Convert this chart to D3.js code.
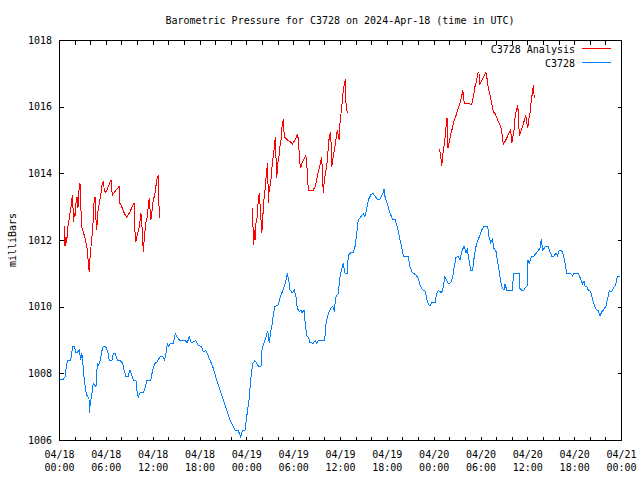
<!DOCTYPE html>
<html>
<head>
<meta charset="utf-8">
<script src="https://cdn.jsdelivr.net/npm/d3@7"></script>
<style>
  html, body { margin: 0; padding: 0; background: #fff; }
  svg { display: block; }
  text { font-family: "DejaVu Sans Mono", monospace; font-size: 10px; fill: #000; }
</style>
</head>
<body>
<svg id="chart" width="640" height="480"></svg>
<script>
// ---------------- DATA ----------------
const title = "Barometric Pressure for C3728 on 2024-Apr-18 (time in UTC)";
const yLabel = "milliBars";
const seriesNames = ["C3728 Analysis", "C3728"];

// x axis: hours since 2024-04-18 00:00 UTC
const xTickLabelHours = [0, 6, 12, 18, 24, 30, 36, 42, 48, 54, 60, 66, 72];
const xTickDates = ["04/18","04/18","04/18","04/18","04/19","04/19","04/19","04/19","04/20","04/20","04/20","04/20","04/21"];
const xTickTimes = ["00:00","06:00","12:00","18:00","00:00","06:00","12:00","18:00","00:00","06:00","12:00","18:00","00:00"];
const yTicks = [1006, 1008, 1010, 1012, 1014, 1016, 1018];

// C3728 observations (hours, mb)
const obsHours = [0.13,0.55,0.77,0.99,1.19,1.50,1.76,1.96,2.18,2.47,2.60,2.78,2.91,3.04,3.11,3.29,3.46,3.63,3.84,3.88,4.01,4.19,4.39,4.52,4.74,4.91,5.09,5.25,5.47,5.68,5.98,6.24,6.44,6.79,6.96,7.21,7.47,7.81,8.16,8.33,8.58,8.84,9.10,9.31,9.52,9.86,10.03,10.16,10.38,10.80,11.02,11.24,11.75,12.00,12.30,12.59,12.94,13.29,13.54,13.71,13.87,14.05,14.31,14.64,14.90,15.16,15.41,15.76,16.14,16.44,16.69,16.95,17.29,17.55,17.81,18.28,18.49,18.83,19.13,19.43,19.77,20.20,20.63,21.05,21.48,21.91,22.33,22.55,22.97,23.28,23.53,23.83,24.05,24.34,24.56,24.81,25.11,25.53,25.88,25.97,26.17,26.52,26.74,26.94,27.12,27.33,27.45,27.67,28.10,28.31,28.61,28.86,29.08,29.25,29.43,29.59,29.89,30.14,30.36,30.53,30.79,31.00,31.13,31.39,31.55,31.73,31.99,32.16,32.58,32.80,33.01,33.27,34.04,34.21,34.50,34.81,35.06,35.27,35.49,35.78,36.00,36.22,36.42,36.64,36.93,37.06,37.41,37.70,37.92,38.14,38.34,38.69,38.98,39.20,39.42,39.63,39.93,40.19,40.48,40.78,41.12,41.47,41.64,41.80,42.06,42.41,42.75,43.04,43.34,43.60,43.90,44.11,44.75,44.97,45.26,45.74,46.03,46.25,46.59,46.89,47.10,47.31,47.53,47.75,48.17,48.39,48.59,49.03,49.23,49.45,49.67,49.87,50.18,50.44,50.64,50.86,51.15,51.37,51.59,51.89,52.14,52.31,52.57,52.74,53.00,53.17,53.42,53.72,53.94,54.15,54.45,54.92,55.09,55.31,55.51,55.73,55.99,56.20,56.41,56.59,56.79,57.01,57.14,57.36,58.12,58.20,58.97,59.06,59.28,59.57,59.83,60.00,60.05,60.26,60.56,60.85,61.11,61.40,61.62,61.79,61.97,62.17,62.39,62.69,62.90,63.12,63.42,63.67,63.84,64.06,64.40,64.61,64.83,65.04,65.56,65.81,65.98,66.53,66.84,67.09,67.26,67.39,67.61,67.81,68.12,68.37,68.67,68.89,69.09,69.31,69.53,69.82,70.08,70.29,70.50,70.81,71.01,71.32,71.52,71.87];
const obsValues = [1007.80,1007.82,1007.90,1008.30,1008.40,1008.40,1008.80,1008.80,1008.62,1008.65,1008.70,1008.40,1008.60,1008.40,1008.10,1007.70,1007.45,1007.30,1007.28,1006.80,1007.10,1007.35,1007.70,1007.65,1007.60,1008.30,1008.25,1008.35,1008.65,1008.82,1008.80,1008.65,1008.40,1008.40,1008.60,1008.60,1008.40,1008.38,1008.30,1008.10,1007.90,1007.90,1008.10,1007.95,1007.80,1007.78,1007.40,1007.28,1007.42,1007.42,1007.55,1007.78,1007.78,1008.10,1008.30,1008.35,1008.50,1008.50,1008.40,1008.60,1008.88,1008.82,1008.90,1008.90,1009.18,1009.08,1009.00,1009.00,1008.98,1008.92,1009.10,1008.92,1008.95,1008.98,1008.85,1008.80,1008.65,1008.68,1008.52,1008.35,1008.15,1007.80,1007.50,1007.20,1006.90,1006.60,1006.40,1006.30,1006.28,1006.10,1006.30,1006.30,1006.70,1007.20,1007.80,1008.30,1008.38,1008.22,1008.22,1008.65,1008.85,1009.10,1009.28,1008.90,1009.25,1009.50,1009.75,1010.00,1010.05,1010.25,1010.45,1010.60,1010.80,1011.00,1010.80,1010.50,1010.42,1010.50,1010.30,1009.95,1009.85,1009.90,1009.80,1009.90,1009.50,1009.12,1009.08,1008.92,1008.90,1008.98,1008.90,1009.00,1009.00,1009.50,1009.80,1009.95,1010.00,1009.90,1010.30,1010.40,1010.90,1011.12,1011.30,1011.00,1011.00,1011.55,1011.62,1011.62,1011.80,1012.20,1012.60,1012.70,1012.80,1012.70,1012.95,1013.20,1013.35,1013.40,1013.32,1013.22,1013.22,1013.38,1013.52,1013.25,1013.10,1012.80,1012.62,1012.62,1012.40,1012.10,1011.80,1011.52,1011.50,1011.20,1011.02,1010.95,1010.85,1010.65,1010.50,1010.48,1010.25,1010.08,1010.02,1010.12,1010.12,1010.40,1010.48,1010.42,1010.60,1010.90,1010.80,1010.68,1010.72,1010.90,1011.20,1011.48,1011.50,1011.40,1011.65,1011.82,1011.62,1011.70,1011.35,1011.10,1011.10,1011.45,1011.80,1012.02,1012.15,1012.30,1012.42,1012.42,1012.10,1011.92,1012.02,1011.75,1011.65,1011.35,1011.05,1010.75,1010.55,1010.50,1010.68,1010.50,1010.50,1011.00,1011.00,1010.55,1010.50,1010.50,1010.60,1010.62,1011.40,1011.30,1011.52,1011.52,1011.60,1011.68,1011.75,1012.02,1011.70,1011.75,1011.82,1011.80,1011.65,1011.52,1011.52,1011.60,1011.52,1011.68,1011.68,1011.55,1011.30,1011.00,1011.00,1010.92,1011.00,1011.00,1010.82,1010.68,1010.78,1010.62,1010.60,1010.50,1010.45,1010.20,1009.98,1009.90,1009.88,1009.72,1009.85,1009.92,1010.02,1010.25,1010.48,1010.45,1010.55,1010.65,1010.90,1010.90];

// C3728 Analysis (hours, mb); null marks a gap in the record
const anaHours = [0.68,0.77,0.90,0.99,1.11,1.28,1.41,1.54,1.63,1.76,1.83,1.96,2.05,2.18,2.31,2.43,2.56,2.69,2.78,2.91,3.11,3.33,3.55,3.68,3.75,3.88,4.01,4.19,4.32,4.48,4.61,4.74,4.83,4.96,5.12,5.25,5.38,5.51,5.68,5.80,5.98,6.19,6.44,6.66,6.83,7.08,7.39,7.69,7.81,8.03,8.33,8.67,9.10,9.61,9.74,9.86,10.03,10.29,10.50,10.63,10.80,10.93,11.11,11.24,11.44,11.57,11.75,11.88,12.00,12.30,12.52,12.72,12.85,
  18.0,
  24.82,24.89,25.02,25.11,25.24,25.40,25.53,25.66,25.84,25.97,26.10,26.17,26.35,26.48,26.61,26.74,26.81,26.94,27.12,27.25,27.38,27.55,27.71,27.89,28.02,28.18,28.31,28.44,28.57,28.73,28.86,29.17,29.59,29.89,30.23,30.53,30.71,30.78,30.96,31.13,31.39,31.61,31.73,31.94,32.58,32.80,33.01,33.22,33.44,33.66,33.86,33.99,34.21,34.37,34.50,34.63,34.81,34.94,35.06,35.27,35.45,35.65,35.78,35.91,36.00,36.22,36.42,36.55,36.68,36.77,36.93,
  42.0,
  48.72,48.90,49.03,49.16,49.32,49.45,49.58,49.71,49.84,49.96,50.09,50.22,50.39,50.51,50.64,50.82,50.95,51.15,51.37,51.59,51.72,51.80,51.92,52.44,52.87,53.00,53.16,53.29,53.51,53.64,53.80,53.93,54.15,54.36,54.58,54.70,54.87,55.00,55.22,55.43,55.64,55.86,56.07,56.28,56.50,56.71,56.84,56.92,57.14,57.44,57.69,57.87,58.00,58.13,58.29,58.42,58.55,58.77,58.89,58.97,59.15,59.36,59.57,59.79,59.92,60.04,60.21,60.34,60.47,60.64,60.77,60.89];
const anaValues = [1012.42,1011.82,1012.10,1011.92,1012.35,1012.60,1012.80,1013.00,1013.22,1013.35,1012.55,1012.80,1012.70,1013.10,1013.30,1012.95,1013.50,1013.70,1013.10,1012.40,1012.25,1012.05,1011.82,1011.62,1011.25,1011.05,1011.60,1012.00,1012.35,1013.10,1013.30,1012.60,1012.30,1012.80,1013.05,1013.22,1013.40,1013.65,1013.77,1013.50,1013.42,1013.52,1013.68,1013.80,1013.35,1013.42,1013.52,1013.60,1013.10,1013.00,1012.82,1012.68,1012.85,1013.12,1012.25,1011.95,1012.15,1012.40,1012.80,1012.40,1011.65,1012.05,1012.50,1012.60,1013.00,1013.27,1012.60,1012.75,1013.10,1013.40,1013.80,1013.95,1012.65,
  null,
  1012.95,1011.85,1012.30,1012.00,1012.50,1012.70,1013.20,1013.40,1012.80,1012.20,1012.50,1013.05,1013.40,1013.75,1014.10,1014.30,1013.10,1013.55,1013.70,1014.10,1014.40,1014.70,1015.10,1013.85,1014.30,1014.50,1014.80,1015.00,1015.40,1015.62,1015.10,1015.02,1014.95,1014.88,1015.00,1015.15,1015.00,1014.45,1014.15,1014.30,1014.42,1014.55,1014.32,1013.50,1013.50,1013.60,1013.80,1014.05,1014.25,1014.48,1013.40,1013.80,1014.10,1014.35,1014.80,1015.10,1015.25,1014.20,1014.40,1014.70,1014.95,1015.30,1015.15,1015.00,1015.50,1016.00,1016.50,1016.65,1016.82,1016.10,1015.82,
  null,
  1014.72,1014.55,1014.22,1014.55,1014.82,1015.05,1015.40,1015.65,1014.75,1014.90,1015.05,1015.20,1015.35,1015.50,1015.60,1015.70,1015.80,1015.95,1016.10,1016.30,1016.50,1016.35,1016.10,1016.10,1016.05,1016.20,1016.40,1016.60,1016.78,1017.00,1017.02,1016.68,1016.78,1016.88,1016.98,1017.02,1016.80,1016.55,1016.35,1016.10,1015.85,1015.80,1015.68,1015.55,1015.45,1015.30,1015.00,1014.88,1014.95,1015.10,1015.22,1015.30,1014.90,1015.08,1015.30,1015.65,1015.85,1016.05,1015.60,1015.12,1015.25,1015.40,1015.55,1015.75,1015.55,1015.35,1015.65,1015.80,1016.12,1016.40,1016.65,1016.25];

const seriesColors = ["#ff0000", "#0080ff"];

// ---------------- CHART ----------------
const svg = d3.select("#chart");
const m = { left: 59, right: 621, top: 40, bottom: 440 };

const x = d3.scaleLinear().domain([0, 72]).range([m.left, m.right]);
const y = d3.scaleLinear().domain([1006, 1018]).range([m.bottom, m.top]);

// title
svg.append("text").attr("x", 340).attr("y", 20).attr("text-anchor", "middle")
  .attr("dominant-baseline", "central").text(title);

// y label
svg.append("text").attr("transform", "translate(12,240) rotate(-90)")
  .attr("text-anchor", "middle").attr("dominant-baseline", "central").text(yLabel);

// ticks (inward, all four sides)
const xTickVals = d3.range(0, 73, 2);
const tk = 4;
svg.append("g").attr("transform", `translate(0,${m.bottom + 0.5})`)
  .call(d3.axisBottom(x).tickValues(xTickVals).tickSizeInner(-tk).tickSizeOuter(0).tickFormat(""))
  .call(g => g.select(".domain").remove());
svg.append("g").attr("transform", `translate(0,${m.top + 0.5})`)
  .call(d3.axisTop(x).tickValues(xTickVals).tickSizeInner(-tk).tickSizeOuter(0).tickFormat(""))
  .call(g => g.select(".domain").remove());
svg.append("g").attr("transform", `translate(${m.left + 0.5},0)`)
  .call(d3.axisLeft(y).tickValues(yTicks).tickSizeInner(-tk).tickSizeOuter(0).tickFormat(""))
  .call(g => g.select(".domain").remove());
svg.append("g").attr("transform", `translate(${m.right + 0.5},0)`)
  .call(d3.axisRight(y).tickValues(yTicks).tickSizeInner(-tk).tickSizeOuter(0).tickFormat(""))
  .call(g => g.select(".domain").remove());
svg.selectAll(".tick line").attr("stroke", "#000").attr("shape-rendering", "crispEdges");

// frame
svg.append("rect").attr("x", m.left + 0.5).attr("y", m.top + 0.5)
  .attr("width", m.right - m.left).attr("height", m.bottom - m.top)
  .attr("fill", "none").attr("stroke", "#000").attr("shape-rendering", "crispEdges");

// y tick labels
svg.append("g").selectAll("text").data(yTicks).join("text")
  .attr("x", 52).attr("y", d => y(d)).attr("text-anchor", "end")
  .attr("dominant-baseline", "central").text(d => d);

// x tick labels
const xl = svg.append("g").selectAll("g").data(xTickLabelHours).join("g")
  .attr("transform", d => `translate(${x(d) + 0.5},0)`);
xl.append("text").attr("y", 454).attr("text-anchor", "middle").attr("dominant-baseline", "central")
  .text((d, i) => xTickDates[i]);
xl.append("text").attr("y", 467).attr("text-anchor", "middle").attr("dominant-baseline", "central")
  .text((d, i) => xTickTimes[i]);

// lines
const line = d3.line()
  .defined(d => d[1] !== null)
  .x(d => x(d[0])).y(d => y(d[1]));

const clip = svg.append("clipPath").attr("id", "clip").append("rect")
  .attr("x", m.left).attr("y", m.top).attr("width", m.right - m.left + 1).attr("height", m.bottom - m.top + 1);

svg.append("path").datum(obsHours.map((h, i) => [h, obsValues[i]]))
  .attr("d", line).attr("fill", "none").attr("stroke", seriesColors[1]).attr("stroke-width", 1)
  .attr("shape-rendering", "crispEdges").attr("clip-path", "url(#clip)");
svg.append("path").datum(anaHours.map((h, i) => [h, anaValues[i]]))
  .attr("d", line).attr("fill", "none").attr("stroke", seriesColors[0]).attr("stroke-width", 1)
  .attr("shape-rendering", "crispEdges").attr("clip-path", "url(#clip)");

// legend
const leg = svg.append("g").selectAll("g").data(seriesNames).join("g")
  .attr("transform", (d, i) => `translate(0,${49 + i * 14})`);
leg.append("text").attr("x", 575).attr("y", 0).attr("text-anchor", "end")
  .attr("dominant-baseline", "central").text(d => d);
leg.append("line").attr("x1", 582).attr("x2", 611).attr("y1", -0.5).attr("y2", -0.5)
  .attr("stroke", (d, i) => seriesColors[i]).attr("stroke-width", 1)
  .attr("shape-rendering", "crispEdges");
</script>
</body>
</html>
